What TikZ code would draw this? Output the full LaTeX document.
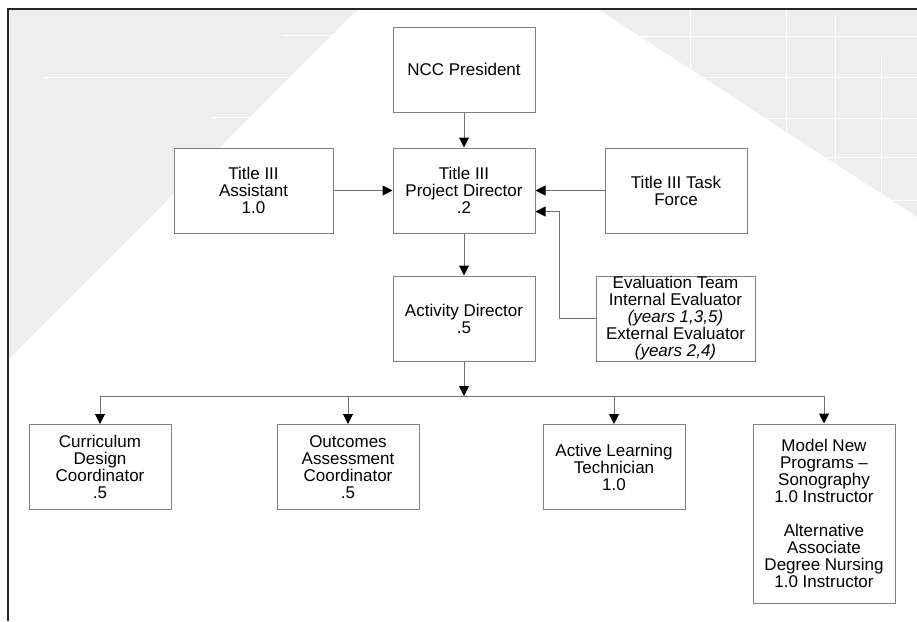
\documentclass[tikz,border=0pt]{standalone}
\usepackage{fontspec}
\setmainfont{Liberation Sans}
\usetikzlibrary{arrows.meta,calc}
\definecolor{bggray}{HTML}{EEEEEE}
\definecolor{boxgray}{HTML}{808080}
\definecolor{lngray}{HTML}{707070}
\begin{document}
\begin{tikzpicture}[x=1pt,y=-1pt,
  box/.style={draw=boxgray,line width=1pt,fill=white,align=center,inner sep=0pt,
    minimum width=142pt,minimum height=85pt,font=\fontsize{17pt}{17pt}\selectfont},
  conn/.style={draw=lngray,line width=1pt},
  arr/.style={conn,-{Triangle[length=10pt,width=10pt,black]}},
  grid/.style={draw=white,line width=0.8pt}]
\useasboundingbox (0,0) rectangle (917,621);
% background shapes
\fill[bggray] (8,9) -- (358,9) -- (8,360) -- cycle;
\fill[bggray] (598,9) -- (917,9) -- (917,217) -- cycle;
\begin{scope}
  \clip (8,9) -- (358,9) -- (8,360) -- cycle;
  \draw[grid] (283,35) -- (360,35);
  \draw[grid] (43,77) -- (360,77);
  \draw[grid] (212,117) -- (360,117);
\end{scope}
\begin{scope}
  \clip (598,9) -- (917,9) -- (917,217) -- cycle;
  \foreach \x in {690,786} \draw[grid] (\x,9) -- (\x,230);
  \draw[grid] (835,15) -- (835,230);
  \draw[grid] (881,56) -- (881,230);
  \foreach \y in {36,77,118,157,200} \draw[grid] (598,\y) -- (917,\y);
\end{scope}
% frame
\draw[line width=1.5pt,black!85] (8,621) -- (8,9) -- (917,9);
% nodes
\node[box] (ncc) at (464,69.5) {NCC President};
\node[box] (pd) at (464,190.5) {Title III\\Project Director\\.2};
\node[box,minimum width=159pt] (asst) at (253.5,190.5) {Title III\\Assistant\\1.0};
\node[box] (tf) at (676,190.5) {Title III Task\\Force};
\node[box] (ad) at (464,318.5) {Activity Director\\.5};
\node[box,minimum width=159pt] (ev) at (675.5,318.5) {Evaluation Team\\Internal Evaluator\\\textit{(years 1,3,5)}\\External Evaluator\\\textit{(years 2,4)}};
\node[box] (cur) at (100,467) {Curriculum\\Design\\Coordinator\\.5};
\node[box] (out) at (348,467) {Outcomes\\Assessment\\Coordinator\\.5};
\node[box] (alt) at (614,467) {Active Learning\\Technician\\1.0};
\node[box,minimum height=179pt] (mod) at (824,513.5) {Model New\\Programs –\\Sonography\\1.0 Instructor\\[17pt]Alternative\\Associate\\Degree Nursing\\1.0 Instructor};
% connectors
\coordinate (evin) at ($(pd.east)+(0,21)$);
\coordinate (bus) at (464,396);
\draw[arr] (ncc) -- (pd);
\draw[arr] (asst) -- (pd);
\draw[arr] (tf) -- (pd);
\draw[arr] (ev.west) -- ++(-36,0) |- (evin);
\draw[arr] (pd) -- (ad);
\draw[arr] (ad) -- (bus);
\draw[conn] (cur.north |- bus) -- (mod.north |- bus);
\foreach \n in {cur,out,alt,mod} \draw[arr] (\n.north |- bus) -- (\n.north);
\end{tikzpicture}
\end{document}
